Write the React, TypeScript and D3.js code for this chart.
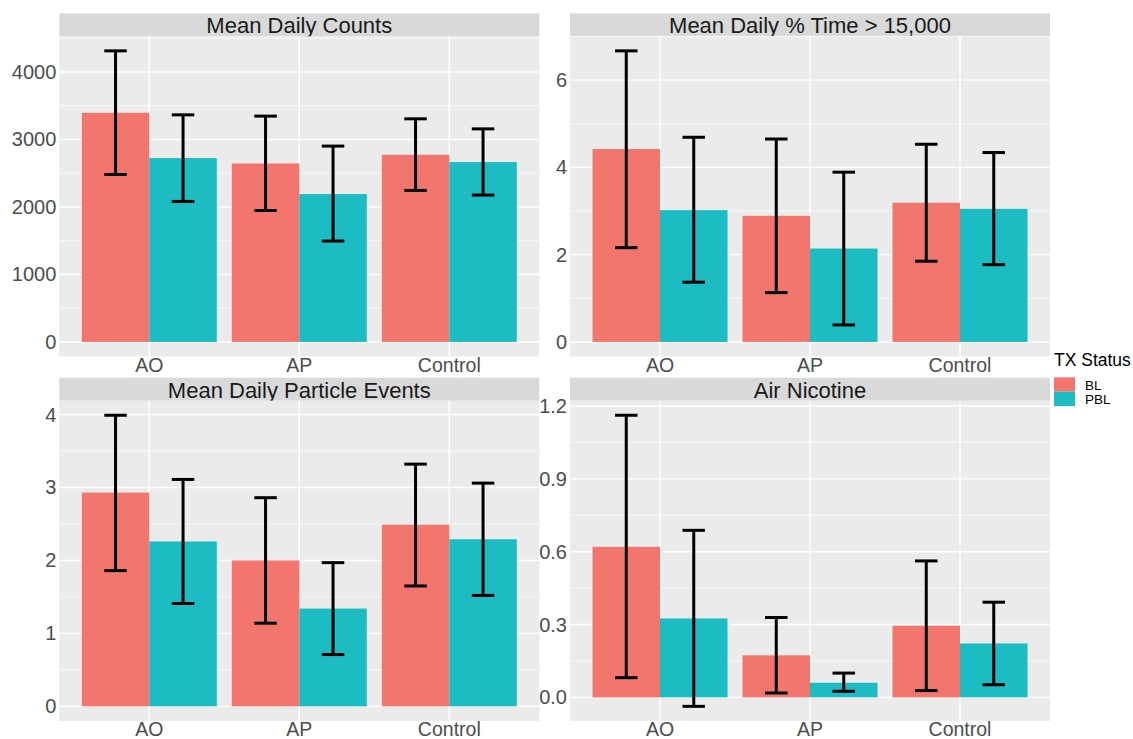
import * as d3 from "d3";

const categories = ["AO", "AP", "Control"];
const groups = ["BL", "PBL"];
const groupColors = ["#F3766E", "#1CBCC2"];

const panelTitles = [
  "Mean Daily Counts",
  "Mean Daily % Time > 15,000",
  "Mean Daily Particle Events",
  "Air Nicotine",
];

// each row is one category: [BL, PBL]
const countsMean = [[3395, 2724], [2644, 2191], [2773, 2665]];
const countsLow = [[2481, 2082], [1948, 1495], [2245, 2176]];
const countsHigh = [[4313, 3365], [3346, 2902], [3306, 3157]];
const countsTicks = [0, 1000, 2000, 3000, 4000];

const pctMean = [[4.42, 3.02], [2.89, 2.14], [3.19, 3.05]];
const pctLow = [[2.16, 1.37], [1.13, 0.39], [1.85, 1.77]];
const pctHigh = [[6.67, 4.69], [4.65, 3.89], [4.53, 4.34]];
const pctTicks = [0, 2, 4, 6];

const particleMean = [[2.93, 2.26], [2.0, 1.34], [2.49, 2.29]];
const particleLow = [[1.86, 1.41], [1.14, 0.71], [1.65, 1.52]];
const particleHigh = [[3.99, 3.11], [2.86, 1.97], [3.32, 3.06]];
const particleTicks = [0, 1, 2, 3, 4];

const nicotineMean = [[0.62, 0.325], [0.173, 0.06], [0.295, 0.222]];
const nicotineLow = [[0.081, -0.037], [0.018, 0.025], [0.028, 0.052]];
const nicotineHigh = [[1.162, 0.688], [0.329, 0.1], [0.562, 0.392]];
const nicotineTicks = [0, 0.3, 0.6, 0.9, 1.2];

const panels = [
  { title: panelTitles[0], mean: countsMean, low: countsLow, high: countsHigh, ticks: countsTicks, fmt: d3.format("d") },
  { title: panelTitles[1], mean: pctMean, low: pctLow, high: pctHigh, ticks: pctTicks, fmt: d3.format("d") },
  { title: panelTitles[2], mean: particleMean, low: particleLow, high: particleHigh, ticks: particleTicks, fmt: d3.format("d") },
  { title: panelTitles[3], mean: nicotineMean, low: nicotineLow, high: nicotineHigh, ticks: nicotineTicks, fmt: d3.format(".1f") },
];

const W = 1133;
const H = 739;
const panelLefts = [59.3, 570];
const panelTops = [36.3, 400.7];
const panelW = 480;
const panelH = 320.2;
const stripH = 23;
const FONT = "Liberation Sans, Arial, sans-serif";

const Panel = ({ p, left, top }) => {
  const x = d3.scaleBand().domain(categories).range([left, left + panelW]).paddingInner(0.1).paddingOuter(0.15);
  const xg = d3.scaleBand().domain(groups).range([0, x.bandwidth()]);
  const lo = Math.min(0, d3.min(p.low.flat()));
  const hi = d3.max(p.high.flat());
  const pad = (hi - lo) * 0.05;
  const y = d3.scaleLinear().domain([lo - pad, hi + pad]).range([top + panelH, top]);
  const [d0, d1] = y.domain();
  const step = p.ticks[1] - p.ticks[0];
  const minor = [p.ticks[0] - step / 2, ...p.ticks.map((t) => t + step / 2)].filter((t) => t > d0 && t < d1);
  const capW = xg.bandwidth() / 3;

  return (
    <g>
      <rect x={left} y={top - stripH} width={panelW} height={stripH} fill="#D9D9D9" />
      <text x={left + panelW / 2} y={top - stripH / 2 + 1} textAnchor="middle" dominantBaseline="central"
        fontSize={22} fill="#1A1A1A" fontFamily={FONT}>{p.title}</text>
      <rect x={left} y={top} width={panelW} height={panelH} fill="#EBEBEB" />
      {minor.map((t) => (
        <line key={"m" + t} x1={left} x2={left + panelW} y1={y(t)} y2={y(t)} stroke="#FFFFFF" strokeWidth={0.7} />
      ))}
      {p.ticks.map((t) => (
        <line key={"t" + t} x1={left} x2={left + panelW} y1={y(t)} y2={y(t)} stroke="#FFFFFF" strokeWidth={1.4} />
      ))}
      {categories.map((c) => (
        <line key={"v" + c} x1={x(c) + x.bandwidth() / 2} x2={x(c) + x.bandwidth() / 2} y1={top} y2={top + panelH}
          stroke="#FFFFFF" strokeWidth={1.4} />
      ))}
      {categories.map((c, i) =>
        groups.map((g, j) => (
          <rect key={c + g} x={x(c) + xg(g)} y={y(Math.max(0, p.mean[i][j]))} width={xg.bandwidth()}
            height={Math.abs(y(p.mean[i][j]) - y(0))} fill={groupColors[j]} />
        ))
      )}
      {categories.map((c, i) =>
        groups.map((g, j) => {
          const cx = x(c) + xg(g) + xg.bandwidth() / 2;
          const y1 = y(p.low[i][j]);
          const y2 = y(p.high[i][j]);
          return (
            <g key={"e" + c + g} stroke="#000000" strokeWidth={3}>
              <line x1={cx} x2={cx} y1={y1} y2={y2} />
              <line x1={cx - capW / 2} x2={cx + capW / 2} y1={y1} y2={y1} />
              <line x1={cx - capW / 2} x2={cx + capW / 2} y1={y2} y2={y2} />
            </g>
          );
        })
      )}
      {p.ticks.map((t) => (
        <text key={"l" + t} x={left - 3} y={y(t)} textAnchor="end" dominantBaseline="central"
          fontSize={20} fill="#4D4D4D" fontFamily={FONT}>{p.fmt(t)}</text>
      ))}
      {categories.map((c) => (
        <text key={"c" + c} x={x(c) + x.bandwidth() / 2} y={top + panelH + 15.5} textAnchor="middle"
          fontSize={19.5} fill="#4D4D4D" fontFamily={FONT}>{c}</text>
      ))}
    </g>
  );
};

export default function App() {
  return (
    <svg width={W} height={H} style={{ position: "absolute", left: 0, top: 0, background: "#FFFFFF" }}>
      <rect width={W} height={H} fill="#FFFFFF" />
      {panels.map((p, i) => (
        <Panel key={p.title} p={p} left={panelLefts[i % 2]} top={panelTops[Math.floor(i / 2)]} />
      ))}
      <g fontFamily={FONT}>
        <text x={1054} y={360} dominantBaseline="central" fontSize={17.5} fill="#000000">TX Status</text>
        {groups.map((g, j) => (
          <g key={g}>
            <rect x={1054} y={377.3 + j * 14.4} width={21} height={14.4} fill={groupColors[j]} />
            <text x={1085} y={385 + j * 14.4} dominantBaseline="central" fontSize={13.5} fill="#000000">{g}</text>
          </g>
        ))}
      </g>
    </svg>
  );
}
